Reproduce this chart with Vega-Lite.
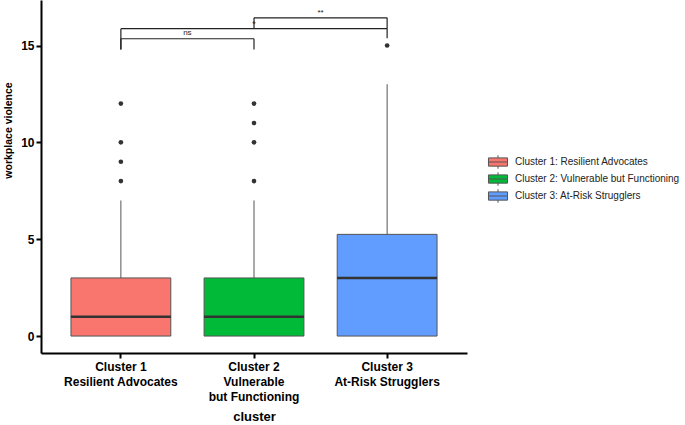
{
  "$schema": "https://vega.github.io/schema/vega-lite/v6.json",
  "autosize": "none",
  "padding": {"left": 41, "top": 0, "right": 218, "bottom": 72},
  "width": 426,
  "height": 353,
  "background": "white",
  "datasets": {
    "boxes": [
      {"cluster": "Cluster 1: Resilient Advocates", "lower": 0, "q1": 0, "median": 1, "q3": 3, "upper": 7},
      {"cluster": "Cluster 2: Vulnerable but Functioning", "lower": 0, "q1": 0, "median": 1, "q3": 3, "upper": 7},
      {"cluster": "Cluster 3: At-Risk Strugglers", "lower": 0, "q1": 0, "median": 3, "q3": 5.25, "upper": 13}
    ],
    "outliers": [
      {"cluster": "Cluster 1: Resilient Advocates", "value": 8},
      {"cluster": "Cluster 1: Resilient Advocates", "value": 9},
      {"cluster": "Cluster 1: Resilient Advocates", "value": 10},
      {"cluster": "Cluster 1: Resilient Advocates", "value": 12},
      {"cluster": "Cluster 2: Vulnerable but Functioning", "value": 8},
      {"cluster": "Cluster 2: Vulnerable but Functioning", "value": 10},
      {"cluster": "Cluster 2: Vulnerable but Functioning", "value": 11},
      {"cluster": "Cluster 2: Vulnerable but Functioning", "value": 12},
      {"cluster": "Cluster 3: At-Risk Strugglers", "value": 15}
    ],
    "bars": [
      {"from": "Cluster 1: Resilient Advocates", "to": "Cluster 2: Vulnerable but Functioning", "y": 15.35},
      {"from": "Cluster 1: Resilient Advocates", "to": "Cluster 3: At-Risk Strugglers", "y": 15.87},
      {"from": "Cluster 2: Vulnerable but Functioning", "to": "Cluster 3: At-Risk Strugglers", "y": 16.43}
    ],
    "legs": [
      {"cluster": "Cluster 1: Resilient Advocates", "y": 15.35, "y2": 14.8},
      {"cluster": "Cluster 2: Vulnerable but Functioning", "y": 15.35, "y2": 14.8},
      {"cluster": "Cluster 1: Resilient Advocates", "y": 15.87, "y2": 14.8},
      {"cluster": "Cluster 3: At-Risk Strugglers", "y": 15.87, "y2": 15.38},
      {"cluster": "Cluster 2: Vulnerable but Functioning", "y": 16.43, "y2": 15.87},
      {"cluster": "Cluster 3: At-Risk Strugglers", "y": 16.43, "y2": 15.87}
    ],
    "sig": [
      {"cluster": "Cluster 1: Resilient Advocates", "y": 15.65, "label": "ns", "shift": "half"},
      {"cluster": "Cluster 2: Vulnerable but Functioning", "y": 16.1, "label": "*", "shift": "none"},
      {"cluster": "Cluster 2: Vulnerable but Functioning", "y": 16.7, "label": "**", "shift": "half"}
    ]
  },
  "config": {
    "view": {"stroke": null},
    "font": "Liberation Sans",
    "axis": {
      "grid": false,
      "domainColor": "black",
      "domainWidth": 2,
      "tickColor": "black",
      "tickWidth": 2,
      "tickSize": 5,
      "labelColor": "black",
      "labelFont": "Liberation Sans",
      "labelFontSize": 12,
      "labelFontWeight": "bold",
      "titleColor": "black",
      "titleFont": "Liberation Sans",
      "titleFontSize": 13,
      "titleFontWeight": "bold"
    }
  },
  "encoding": {
    "x": {
      "field": "cluster",
      "type": "nominal",
      "sort": null,
      "title": "cluster",
      "scale": {
        "domain": ["Cluster 1: Resilient Advocates", "Cluster 2: Vulnerable but Functioning", "Cluster 3: At-Risk Strugglers"],
        "paddingInner": 0,
        "paddingOuter": 0.1
      },
      "axis": {
        "labelAngle": 0,
        "labelPadding": 3,
        "labelLineHeight": 15,
        "titlePadding": 8,
        "labelExpr": "datum.value == 'Cluster 1: Resilient Advocates' ? ['Cluster 1', 'Resilient Advocates'] : datum.value == 'Cluster 2: Vulnerable but Functioning' ? ['Cluster 2', 'Vulnerable', 'but Functioning'] : ['Cluster 3', 'At-Risk Strugglers']"
      }
    }
  },
  "layer": [
    {
      "data": {"name": "boxes"},
      "mark": {"type": "rule", "color": "#555555", "strokeWidth": 1},
      "encoding": {
        "y": {"field": "lower", "type": "quantitative", "title": "workplace violence",
          "scale": {"domain": [-0.875, 17.35], "nice": false, "zero": false},
          "axis": {"values": [0, 5, 10, 15], "titlePadding": 7, "titleFontSize": 10.5, "titleY": 130}},
        "y2": {"field": "upper"}
      }
    },
    {
      "data": {"name": "boxes"},
      "mark": {"type": "bar", "stroke": "#555555", "strokeWidth": 1, "width": {"band": 0.75}},
      "encoding": {
        "y": {"field": "q1", "type": "quantitative"},
        "y2": {"field": "q3"},
        "fill": {
          "field": "cluster",
          "type": "nominal",
          "scale": {
            "domain": ["Cluster 1: Resilient Advocates", "Cluster 2: Vulnerable but Functioning", "Cluster 3: At-Risk Strugglers"],
            "range": ["#F8766D", "#00BA38", "#619CFF"]
          },
          "legend": {
            "title": null,
            "orient": "none",
            "legendX": 449,
            "legendY": 154,
            "padding": 0,
            "symbolType": "M-1.27,-0.55H1.27V0.55H-1.27Z M-1.27,0H1.27 M0,-0.55V-0.9 M0,0.55V0.9",
            "symbolSize": 225,
            "symbolStrokeColor": "#555555",
            "symbolStrokeWidth": 1,
            "symbolOpacity": 1,
            "rowPadding": -2,
            "labelOffset": 9,
            "labelFont": "Liberation Sans",
            "labelFontSize": 10,
            "labelColor": "#222222",
            "labelLimit": 300
          }
        }
      }
    },
    {
      "data": {"name": "boxes"},
      "mark": {"type": "tick", "color": "#333333", "thickness": 2.5, "size": 100, "opacity": 1},
      "encoding": {
        "y": {"field": "median", "type": "quantitative"}
      }
    },
    {
      "data": {"name": "outliers"},
      "mark": {"type": "circle", "color": "#333333", "size": 22, "opacity": 1},
      "encoding": {
        "y": {"field": "value", "type": "quantitative"}
      }
    },
    {
      "data": {"name": "bars"},
      "mark": {"type": "rule", "color": "#222222", "strokeWidth": 1.2},
      "encoding": {
        "x": {"field": "from", "type": "nominal"},
        "x2": {"field": "to"},
        "y": {"field": "y", "type": "quantitative"}
      }
    },
    {
      "data": {"name": "legs"},
      "mark": {"type": "rule", "color": "#222222", "strokeWidth": 1.2},
      "encoding": {
        "y": {"field": "y", "type": "quantitative"},
        "y2": {"field": "y2"}
      }
    },
    {
      "data": {"name": "sig"},
      "transform": [{"filter": "datum.shift == 'half'"}],
      "mark": {"type": "text", "dx": 66.5, "fontSize": 8, "color": "#222222", "baseline": "middle"},
      "encoding": {
        "y": {"field": "y", "type": "quantitative"},
        "text": {"field": "label"}
      }
    },
    {
      "data": {"name": "sig"},
      "transform": [{"filter": "datum.shift == 'none'"}],
      "mark": {"type": "text", "fontSize": 9, "color": "#222222", "baseline": "middle"},
      "encoding": {
        "y": {"field": "y", "type": "quantitative"},
        "text": {"field": "label"}
      }
    }
  ]
}
